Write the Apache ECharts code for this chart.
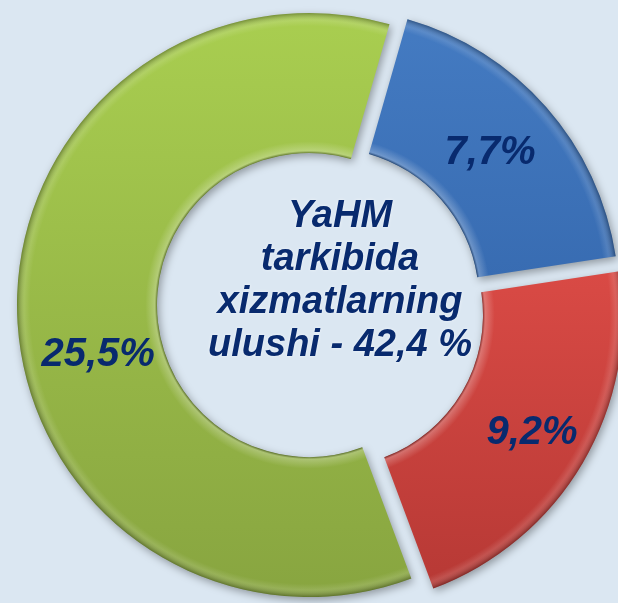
<!DOCTYPE html>
<html>
<head>
<meta charset="utf-8">
<script src="https://cdn.jsdelivr.net/npm/echarts@6/dist/echarts.min.js"></script>
<style>
  html, body { margin: 0; padding: 0; background: #dbe7f2; }
  #chart { width: 618px; height: 603px; }
</style>
</head>
<body>
<div id="chart"></div>
<script>
// shares of services, %
var names = ['Blue', 'Red', 'Green']
var values = [7.7, 9.2, 25.5]
var labels = ['7,7%', '9,2%', '25,5%']
var centerText = ['YaHM', 'tarkibida', 'xizmatlarning', 'ulushi - 42,4 %']

var cx = 309
var cy = 305
var rOut = 292
var rIn = 152
// exploded slices: shift of each slice (px)
var shifts = [[18, -5], [22, 10], [0, 0]]
var labelOffsets = [[-6, 2], [7, 4], [14, 41]]
var colors = [
  ['#447bc2', '#386cb2'],
  ['#d94a45', '#b73935'],
  ['#a9ce50', '#88a540']
]

function bevel(i) {
  var k = rIn / rOut
  return {
    type: 'radial', x: cx + shifts[i][0], y: cy + shifts[i][1], r: rOut, global: true,
    colorStops: [
      { offset: 0, color: 'rgba(0,0,0,0.35)' },
      { offset: k, color: 'rgba(0,0,0,0.35)' },
      { offset: k + 0.008, color: 'rgba(255,255,255,0.25)' },
      { offset: k + 0.04, color: 'rgba(255,255,255,0)' },
      { offset: 0.955, color: 'rgba(255,255,255,0)' },
      { offset: 0.975, color: 'rgba(255,255,255,0.12)' },
      { offset: 1, color: 'rgba(0,0,0,0.3)' }
    ]
  }
}

function sliceSeries(i, overlay) {
  return {
    type: 'pie',
    center: [cx + shifts[i][0], cy + shifts[i][1]],
    radius: [rIn, rOut],
    startAngle: 74,
    clockwise: true,
    animation: false,
    silent: true,
    z: overlay ? 3 : 2,
    labelLine: { show: false },
    emphasis: { disabled: true },
    data: values.map(function(v, j) {
      var mine = j === i
      var style
      if (!mine) {
        style = { color: 'rgba(0,0,0,0)' }
      } else if (overlay) {
        style = { color: bevel(i) }
      } else {
        style = {
          color: new echarts.graphic.LinearGradient(0, 0, 0, 1, [
            { offset: 0, color: colors[i][0] },
            { offset: 1, color: colors[i][1] }
          ]),
          shadowBlur: 8,
          shadowColor: 'rgba(0,0,0,0.35)',
          shadowOffsetX: 2,
          shadowOffsetY: 3
        }
      }
      return {
        name: names[j],
        value: v,
        itemStyle: style,
        label: {
          show: mine && overlay,
          position: 'inside',
          formatter: labels[j],
          offset: labelOffsets[j],
          color: '#082a6e',
          fontSize: 40,
          fontStyle: 'italic',
          fontWeight: 'bold',
          fontFamily: '"Liberation Sans", Arial, sans-serif'
        }
      }
    })
  }
}

var series = []
for (var i = 0; i < values.length; i++) {
  series.push(sliceSeries(i, false))
  series.push(sliceSeries(i, true))
}

var chart = echarts.init(document.getElementById('chart'))
chart.setOption({
  backgroundColor: '#dbe7f2',
  graphic: [{
    type: 'text',
    x: 340,
    y: 281,
    z: 10,
    style: {
      text: centerText.join('\n'),
      fill: '#082a6e',
      font: 'italic bold 38px "Liberation Sans", Arial, sans-serif',
      lineHeight: 43,
      align: 'center',
      verticalAlign: 'middle',
      textShadowColor: 'rgba(255,255,255,0.6)',
      textShadowBlur: 3
    }
  }],
  series: series
})
</script>
</body>
</html>
